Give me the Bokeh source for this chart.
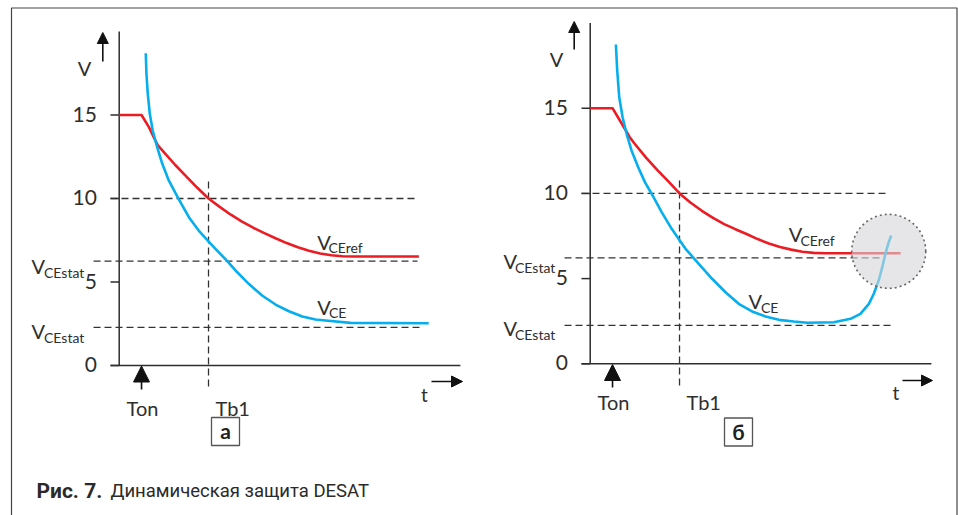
from bokeh.plotting import figure
from bokeh.models import Range1d, Arrow, NormalHead
from bokeh.core.properties import value
from bokeh.embed import file_html
from bokeh.resources import INLINE

# ---------------- data ----------------
v_ticks = [0, 5, 10, 15]
v_tick_labels = ["0", "5", "10", "15"]
t_on = 1.0
t_b1 = 4.0
v_level = 10.0

# panel "а"
a_ref_t = [0.0, 1.0, 1.33, 1.72, 2.0, 2.5, 3.0, 3.5, 4.0, 4.5, 5.0, 5.5, 6.0, 6.5, 7.0, 7.5, 8.0,
           8.5, 9.0, 9.5, 10.0, 10.5, 13.42]
a_ref_v = [15.0, 15.0, 14.27, 13.2, 12.78, 12.02, 11.33, 10.64, 10.0, 9.50, 9.03, 8.62, 8.25, 7.93, 7.62,
           7.33, 7.08, 6.87, 6.71, 6.60, 6.54, 6.53, 6.53]
a_ce_t = [1.19, 1.22, 1.28, 1.37, 1.50, 1.70, 1.93, 2.22, 2.64, 3.12, 3.56, 4.04, 4.31, 4.84, 5.21,
          5.80, 6.40, 7.00, 7.60, 8.20, 8.79, 9.24, 10.36, 13.86]
a_ce_v = [18.70, 17.47, 16.27, 15.07, 14.07, 13.07, 12.08, 11.08, 10.02, 8.88, 8.08, 7.38, 6.99, 6.25, 5.69,
          4.89, 4.19, 3.65, 3.25, 2.93, 2.75, 2.69, 2.55, 2.53]
a_stat = [6.25, 2.28]

# panel "б"
b_ref_t = [0.0, 1.0, 1.33, 1.77, 2.0, 2.5, 3.0, 3.5, 4.0, 4.5, 5.0, 5.5, 6.0, 6.5, 7.0, 7.5, 8.0,
           8.5, 9.0, 9.5, 10.0, 10.5, 13.90]
b_ref_v = [15.0, 15.0, 14.28, 13.30, 12.90, 12.10, 11.38, 10.70, 10.0, 9.45, 8.98, 8.56, 8.20, 7.90, 7.62,
           7.32, 7.06, 6.85, 6.70, 6.58, 6.51, 6.49, 6.49]
b_ce_t = [1.15, 1.21, 1.30, 1.45, 1.63, 1.85, 2.15, 2.45, 2.75, 3.20, 3.65, 4.01, 4.27, 4.86, 5.46, 6.06,
          6.65, 7.25, 7.85, 8.45, 9.12, 9.72, 10.91, 11.66, 12.10, 12.48, 12.70, 12.92, 13.08, 13.22, 13.37, 13.48]
b_ce_v = [18.74, 17.21, 15.65, 14.47, 13.50, 12.52, 11.54, 10.66, 9.98, 8.90, 7.92, 7.24, 6.75, 5.87, 4.99, 4.20,
          3.52, 3.07, 2.78, 2.58, 2.48, 2.41, 2.44, 2.64, 2.93, 3.52, 4.11, 4.89, 5.67, 6.46, 7.14, 7.53]
b_stat = [6.22, 2.25]
b_fault_t = [13.37]
b_fault_v = [6.60]

caption_bold = "Рис. 7."
caption_text = "Динамическая защита DESAT"

# ---------------- layout ----------------
W, H = 958, 515
M = 0  # canvas coord = screen coord - M

RED = "#ec1c24"
BLUE = "#05aeec"
INK = "#2e2e2e"
DASH = "#333333"
FONT = value("Lato")

p = figure(width=W, height=H, x_range=Range1d(0, W), y_range=Range1d(H, 0),
           output_backend="svg", toolbar_location=None, min_border=0,
           x_axis_location=None, y_axis_location=None, outline_line_color=None)
p.grid.visible = False
p.background_fill_color = "white"
p.border_fill_color = "white"

panels = {
    # name: (origin x screen, origin y screen, px per t, px per V)
    "a": (118.7, 365.0, 22.33, 16.7),
    "b": (589.7, 363.3, 22.33, 17.04),
}
for k, (ox, oy, sx, sy) in panels.items():
    oxc, oyc = ox - M, oy - M
    p.extra_x_ranges["t" + k] = Range1d(-oxc / sx, (W - oxc) / sx)
    p.extra_y_ranges["v" + k] = Range1d((oyc - H) / sy, oyc / sy)

# outer frame
p.line(x=[11 - M, 11 - M, 956.5 - M, 956.5 - M], y=[H + 5, 7.5 - M, 7.5 - M, H + 5],
       line_color="#444", line_width=1.2)


def txt(x, y, s, size, align="left", baseline="alphabetic", bold=False, color=INK, font=FONT, **kw):
    p.text(x=x, y=y, text=s, text_font=font, text_font_size=size, text_align=align,
           text_baseline=baseline, text_color=color,
           text_font_style="bold" if bold else "normal", **kw)


def panel(k, ref_t, ref_v, ce_t, ce_v, stat, lab):
    xr, yr = "t" + k, "v" + k
    kw = dict(x_range_name=xr, y_range_name=yr)
    t_left = -0.39
    t_axis_end = 15.28
    # axes
    p.line(x=[0, 0], y=[0, 20.0], line_color=INK, line_width=1.5, **kw)
    p.line(x=[t_left, t_axis_end], y=[0, 0], line_color=INK, line_width=1.5, **kw)
    p.segment(x0=[t_left] * len(v_ticks), y0=v_ticks, x1=[0] * len(v_ticks), y1=v_ticks,
              line_color=INK, line_width=1.5, **kw)
    # tick labels
    p.text(x=[-1.0] * len(v_ticks), y=v_ticks, text=v_tick_labels, text_font=FONT,
           text_font_size="21px", text_align="right", text_baseline="middle",
           text_color=INK, y_offset=-1, **kw)
    # dashed guide lines
    dend = lab["dash_end"]
    p.line(x=[t_left, dend[0]], y=[v_level, v_level], line_color=DASH, line_width=1.3, line_dash="7 4", **kw)
    p.line(x=[-1.15, dend[1]], y=[stat[0], stat[0]], line_color=DASH, line_width=1.3, line_dash="7 4", **kw)
    p.line(x=[-1.15, dend[2]], y=[stat[1], stat[1]], line_color=DASH, line_width=1.3, line_dash="7 4", **kw)
    p.line(x=[t_b1, t_b1], y=[lab["tb_top"], lab["tb_bot"]], line_color=DASH, line_width=1.3,
           line_dash="7 4", **kw)
    # curves
    p.line(x=ref_t, y=ref_v, line_color=RED, line_width=2.6, line_join="round", **kw)
    p.line(x=ce_t, y=ce_v, line_color=BLUE, line_width=2.6, line_join="round", **kw)

    # labels (canvas coords)
    for (vx, vy, sx_, sy_, sub) in lab["vlabels"]:
        txt([vx - M], [vy - M], ["V"], "20px")
        txt([sx_ - M], [sy_ - M], [sub], "14px")
    # V axis label + arrow
    ax, ay = lab["v_axis"]
    txt([ax - M], [ay - M], ["V"], "20px", align="center")
    axx, ay0, ay1 = lab["v_arrow"]
    p.add_layout(Arrow(end=NormalHead(size=11, fill_color="#111", line_color="#111"),
                       x_start=axx - M, y_start=ay0 - M, x_end=axx - M, y_end=ay1 - M,
                       line_color="#111", line_width=1.6))
    # t label + arrow
    tx, ty = lab["t_label"]
    txt([tx - M], [ty - M], ["t"], "19px", align="center")
    tx0, tx1, tyy = lab["t_arrow"]
    p.add_layout(Arrow(end=NormalHead(size=11, fill_color="#111", line_color="#111"),
                       x_start=tx0 - M, y_start=tyy - M, x_end=tx1 - M, y_end=tyy - M,
                       line_color="#111", line_width=1.6))
    # Ton arrow
    on0, on1 = lab["ton_arrow"]
    p.add_layout(Arrow(end=NormalHead(size=16, fill_color="#111", line_color="#111"),
                       x_start=t_on, y_start=on0 - M, x_end=t_on, y_end=on1 - M,
                       x_range_name=xr, line_color="#111", line_width=1.6))
    # Ton, Tb1 labels
    by = lab["t_base"] - M
    p.text(x=[t_on], y=[by], text=["Ton"], text_font=FONT, text_font_size="20px",
           text_align="center", text_baseline="alphabetic", text_color=INK, x_offset=1,
           x_range_name=xr)
    p.text(x=[t_b1], y=[by], text=["Tb1"], text_font=FONT, text_font_size="20px",
           text_align="left", text_baseline="alphabetic", text_color=INK, x_offset=7,
           x_range_name=xr)
    # panel letter box
    bx, byy, letter = lab["box"]
    p.rect(x=[bx - M], y=[byy - M], width=28, height=28, fill_color="white",
           line_color="#555", line_width=1.3)
    txt([bx - M], [byy - M], [letter], "21px", align="center", baseline="middle", bold=True,
        color="#222", y_offset=-1)


panel("a", a_ref_t, a_ref_v, a_ce_t, a_ce_v, a_stat, dict(
    dash_end=[13.36, 13.36, 13.63], tb_top=11.02, tb_bot=-1.38,
    vlabels=[(316.7, 241.7, 328, 247, "CEref"), (316.7, 306.7, 328.5, 312, "CE"),
             (31, 265, 43.5, 271.5, "CEstat"), (31, 330, 43.5, 336.5, "CEstat")],
    v_axis=(84, 67), v_arrow=(102.3, 61, 32), t_label=(424, 394), t_arrow=(431, 462, 381),
    ton_arrow=(389, 365.5), t_base=407, box=(225, 431, "а")))

panel("b", b_ref_t, b_ref_v, b_ce_t, b_ce_v, b_stat, dict(
    dash_end=[13.37, 13.13, 13.59], tb_top=10.76, tb_bot=-1.45,
    vlabels=[(788.3, 233, 800, 240, "CEref"), (748, 300, 760.5, 307, "CE"),
             (503, 260, 514.5, 266.5, "CEstat"), (503, 327, 514.5, 334, "CEstat")],
    v_axis=(556, 58), v_arrow=(573.7, 49, 21), t_label=(895.5, 392), t_arrow=(902, 932, 380),
    ton_arrow=(387, 364), t_base=401.7, box=(738, 431.5, "б")))

# highlighted desaturation area (semi-transparent disc over the curves)
p.scatter(x=b_fault_t, y=b_fault_v, marker="circle", size=74, fill_color="#d6d6d9",
          fill_alpha=0.6, line_color="#666", line_width=1.6, line_dash="2 3",
          x_range_name="tb", y_range_name="vb")

# caption
txt([36 - M], [490 - M], [caption_bold], "21px", bold=True, color="#2a2a2a", font=value("Roboto"))
txt([110 - M], [490 - M], [caption_text], "18.5px", color="#2a2a2a", font=value("Roboto"))

open("out.html", "w").write(file_html(p, INLINE))
